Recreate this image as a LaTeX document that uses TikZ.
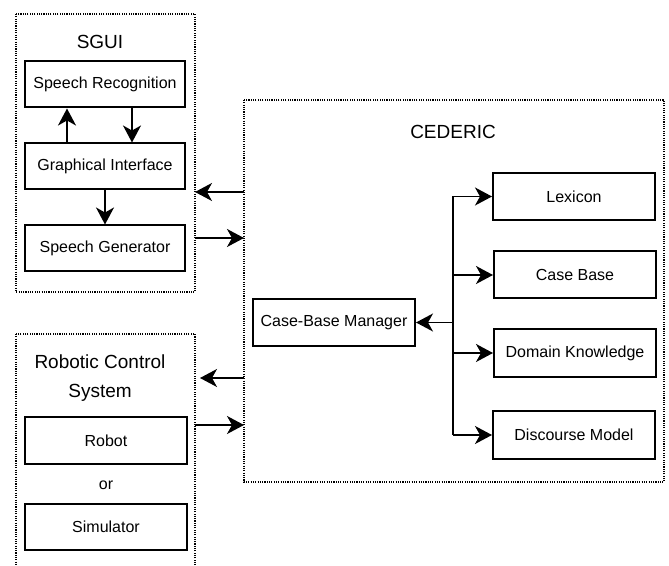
\documentclass[tikz,border=0pt]{standalone}
\usepackage{fontspec}
\setmainfont{Liberation Sans}
\usetikzlibrary{positioning,arrows.meta}

\tikzset{
  module/.style={draw, line width=1pt, minimum width=80pt, minimum height=23pt, inner sep=0pt, font=\fontsize{8}{9.6}\selectfont},
  group/.style={draw, line width=0.75pt, dash pattern=on 0.55pt off 0.6pt},
  title/.style={font=\fontsize{9.5}{14.5}\selectfont, align=center},
}

\begin{document}
\begin{tikzpicture}[x=0.5pt, y=-0.5pt, ->, >={Stealth[length=8.5pt, width=9pt, inset=2.5pt]}, line width=0.8pt, node distance=41pt]
	\clip (0,0) rectangle (669,566);

	% dotted groups
	\draw[group, -] (16,14) rectangle (195,292);
	\draw[group, -] (244,100) rectangle (664,482);
	\draw[group, -] (16,334) rectangle (195,620);

	\node[title] (sgui) at (100,42) {SGUI};
	\node[title] (cederic) at (453,132) {CEDERIC};
	\node[title] (rcs) at (100,378) {Robotic Control\\System};

	% SGUI
	\node[module] (sr) at (105,84.5) {Speech Recognition};
	\node[module] (gi) [below of=sr] {Graphical Interface};
	\node[module] (sg) [below of=gi] {Speech Generator};

	\path ([xshift=-19pt]gi.north) edge ([xshift=-19pt]sr.south);
	\path ([xshift=13.5pt]sr.south) edge ([xshift=13.5pt]gi.north);
	\path (gi) edge (sg);

	% robotic control system
	\node[module, minimum width=81pt] (robot) at (106,440.5) {Robot};
	\node[font=\fontsize{8}{9.6}\selectfont] (or) at (106,485) {or};
	\node[module, minimum width=81pt] (sim) at (106,526.5) {Simulator};

	% CEDERIC
	\node[module, minimum width=81pt, minimum height=23.5pt] (cbm) at (334,322.5) {Case-Base Manager};
	\node[module, minimum width=81pt, minimum height=23.5pt] (lex) at (574,196.5) {Lexicon};
	\node[module, minimum width=81pt, minimum height=23.5pt] (cb) at (575,275) {Case Base};
	\node[module, minimum width=81pt, minimum height=24pt] (dk) at (575,353) {Domain Knowledge};
	\node[module, minimum width=81pt, minimum height=23.5pt] (dm) at (574,435) {Discourse Model};

	\coordinate (hub) at (453,322.5);
	\draw[-] (lex.west -| hub) -- (dm.west -| hub);
	\path (hub) edge (cbm);
	\path (lex.west -| hub) edge (lex);
	\path (cb.west -| hub) edge (cb);
	\path (dk.west -| hub) edge (dk);
	\path (dm.west -| hub) edge (dm);

	% between groups
	\coordinate (c1) at (244,192);
	\coordinate (c2) at (195,238);
	\coordinate (c3) at (244,378);
	\coordinate (c4) at (195,425);
	\path (c1) edge (195,192);
	\path (c2) edge (244,238);
	\path (c3) edge (200,378);
	\path (c4) edge (244,425);
\end{tikzpicture}
\end{document}
